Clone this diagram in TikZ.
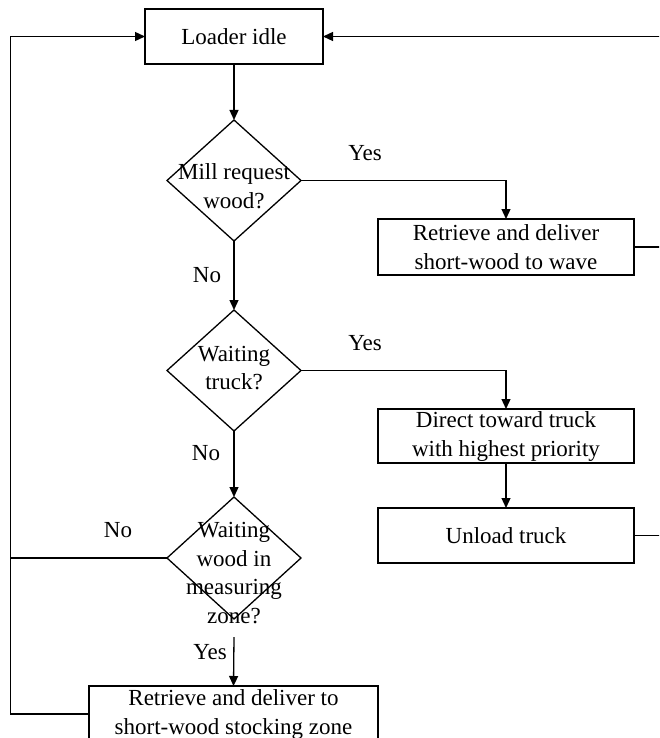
\documentclass[tikz,border=0pt]{standalone}
\usepackage{fontspec}
\setmainfont{Liberation Serif}
\usetikzlibrary{arrows.meta,shapes.geometric}
\begin{document}
\begin{tikzpicture}[x=1pt,y=-1pt,
  box/.style={draw,line width=1.3pt,rectangle,inner sep=0pt,outer sep=0pt,align=center,font=\fontsize{23}{29}\selectfont},
  dia/.style={draw,line width=1.3pt,diamond,inner sep=0pt,outer sep=0pt,minimum width=134pt,minimum height=121pt},
  txt/.style={inner sep=0pt,align=center,font=\fontsize{23}{28.5}\selectfont},
  conn/.style={line width=1.3pt},
  arr/.style={conn,-{Triangle[length=10pt,width=9pt]}}]
\useasboundingbox (0,0) rectangle (659,738);
\clip (0,0) rectangle (659,738);
% nodes
\node[box,minimum width=178pt,minimum height=55pt] (idle) at (234,36.5) {Loader idle};
\node[dia] (d1) at (234,180.5) {};
\node[txt] (t1) at (234,186) {Mill request\\wood?};
\node[box,minimum width=256pt,minimum height=56pt] (r1) at (506,247) {Retrieve and deliver\\short-wood to wave};
\node[dia] (d2) at (234,370.5) {};
\node[txt] (t2) at (234,368) {Waiting\\truck?};
\node[box,minimum width=256pt,minimum height=54pt] (dir) at (506,436) {Direct toward truck\\with highest priority};
\node[box,minimum width=256pt,minimum height=55pt] (unl) at (506,535.5) {Unload truck};
\node[dia,minimum height=122pt] (d3) at (234,558) {};
\node[txt] (t3) at (234,573) {Waiting\\wood in\\measuring\\zone?};
\node[box,minimum width=289pt,minimum height=56pt] (r2) at (233.5,714) {Retrieve and deliver to\\short-wood stocking zone};
% labels
\node[txt] (y1) at (365,153) {Yes};
\node[txt] (n1) at (207,275) {No};
\node[txt] (y2) at (365,343) {Yes};
\node[txt] (n2) at (206,453) {No};
\node[txt] (n3) at (118,530) {No};
\node[txt] (y3) at (210,652) {Yes};
% helper coordinates
\coordinate (lx) at (10.5,713);
\coordinate (rx) at (663,0);
\coordinate (y3s) at (234,637);
% connectors
\draw[arr] (idle.south) -- (d1.north);
\draw[arr] (d1.east) -| (r1.north);
\draw[arr] (d1.south) -- (d2.north);
\draw[arr] (d2.east) -| (dir.north);
\draw[arr] (dir.south) -- (unl.north);
\draw[arr] (d2.south) -- (d3.north);
\draw[arr] (y3s) -- (r2.north);
\draw[arr] (r2.west) -- (r2.west -| lx) |- (idle.west);
\draw[conn] (d3.west) -- (d3.west -| lx);
\draw[arr] (r1.east) -- (r1.east -| rx) |- (idle.east);
\draw[conn] (unl.east) -- (unl.east -| rx);
\end{tikzpicture}
\end{document}
